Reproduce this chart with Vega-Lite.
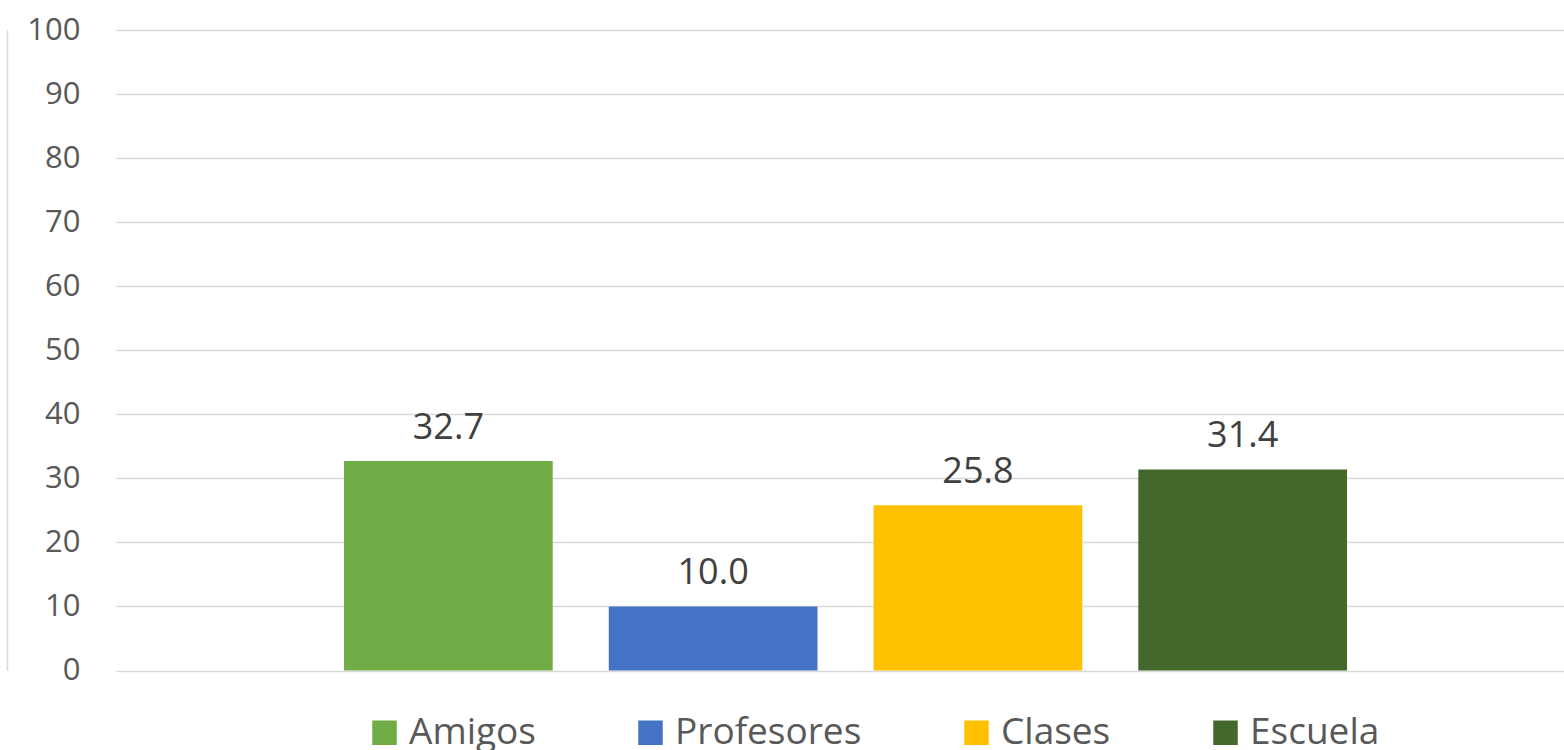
{
  "$schema": "https://vega.github.io/schema/vega-lite/v6.json",
  "width": 1448,
  "height": 640.5,
  "autosize": "none",
  "padding": {"left": 116, "top": 30, "right": 0, "bottom": 79.5},
  "background": "white",
  "config": {"view": {"stroke": null}, "font": "Open Sans"},
  "data": {
    "values": [
      {"serie": "Amigos", "valor": 32.7},
      {"serie": "Profesores", "valor": 10.0},
      {"serie": "Clases", "valor": 25.8},
      {"serie": "Escuela", "valor": 31.4}
    ]
  },
  "encoding": {
    "x": {
      "field": "serie",
      "type": "nominal",
      "sort": null,
      "axis": null,
      "scale": {"paddingInner": 0.2118, "paddingOuter": 0.8404, "align": 0.5124}
    },
    "y": {
      "field": "valor",
      "type": "quantitative",
      "scale": {"domain": [0, 100], "nice": false},
      "axis": {
        "title": null,
        "values": [0, 10, 20, 30, 40, 50, 60, 70, 80, 90, 100],
        "grid": true,
        "gridColor": "#d9d9d9",
        "gridWidth": 1.5,
        "ticks": false,
        "tickSize": 0,
        "domain": true,
        "domainColor": "#d9d9d9",
        "domainWidth": 1.5,
        "offset": 109,
        "labelPadding": -73,
        "labelFontSize": 31,
        "labelColor": "#595959",
        "labelFont": "Open Sans"
      }
    }
  },
  "layer": [
    {
      "mark": {"type": "bar"},
      "encoding": {
        "color": {
          "field": "serie",
          "type": "nominal",
          "sort": null,
          "scale": {
            "domain": ["Amigos", "Profesores", "Clases", "Escuela"],
            "range": ["#70AD47", "#4472C4", "#FFC000", "#43682B"]
          },
          "legend": {
            "title": null,
            "orient": "none",
            "legendX": 250,
            "legendY": 684,
            "direction": "horizontal",
            "symbolType": "square",
            "symbolSize": 600,
            "symbolStrokeWidth": 0,
            "labelFontSize": 37,
            "labelColor": "#595959",
            "labelFont": "Open Sans",
            "labelOffset": 6,
            "labelLimit": 400,
            "columnPadding": 96
          }
        }
      }
    },
    {
      "mark": {
        "type": "text",
        "baseline": "alphabetic",
        "dy": -22,
        "fontSize": 36,
        "color": "#404040",
        "font": "Open Sans"
      },
      "encoding": {
        "text": {"field": "valor", "type": "quantitative", "format": ".1f"}
      }
    }
  ]
}
